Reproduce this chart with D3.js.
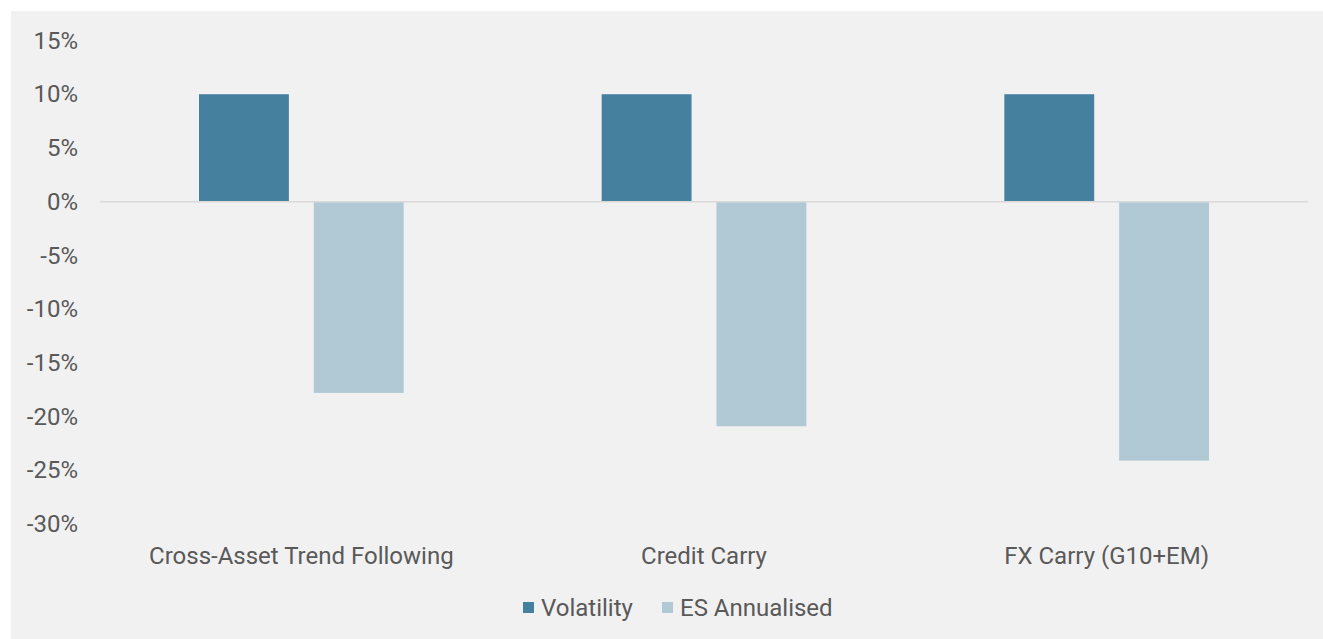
<!DOCTYPE html>
<html>
<head>
<meta charset="utf-8">
<script src="https://cdn.jsdelivr.net/npm/d3@7"></script>
<style>
  body { margin: 0; background: #fff; }
  svg { display: block; font-family: Roboto, "Noto Sans", sans-serif; }
</style>
</head>
<body>
<svg id="chart" width="1323" height="639"></svg>
<script>
// chart data
const categories = ["Cross-Asset Trend Following", "Credit Carry", "FX Carry (G10+EM)"];
const seriesNames = ["Volatility", "ES Annualised"];
const volatility = [0.10, 0.10, 0.10];
const esAnnualised = [-0.178, -0.209, -0.241];
const yTicks = [0.15, 0.10, 0.05, 0, -0.05, -0.10, -0.15, -0.20, -0.25, -0.30];
const colors = ["#45809f", "#b1c9d4"];

const svg = d3.select("#chart");
const width = 1323, height = 639;
const fontSize = 24;

// grey panel
svg.append("rect")
    .attr("x", 11).attr("y", 11)
    .attr("width", width - 11).attr("height", height - 11)
    .attr("fill", "#f1f1f1");

const x0 = d3.scaleBand()
    .domain(categories)
    .range([100, 1308]);

// bars inside a category: about 90px wide with a 25px gap
const x1 = d3.scaleBand()
    .domain(seriesNames)
    .range([99, x0.bandwidth() - 99])
    .paddingInner(0.217);

const y = d3.scaleLinear()
    .domain([-0.30, 0.15])
    .range([524, 40.5]);

const rows = categories.map((c, i) => ({
    category: c,
    values: [volatility[i], esAnnualised[i]]
}));

// y axis labels
const yAxis = svg.append("g")
    .attr("transform", "translate(78,0)")
    .call(d3.axisLeft(y).tickValues(yTicks).tickSize(0).tickPadding(0)
        .tickFormat(d => Math.round(d * 100) + "%"));
yAxis.select(".domain").remove();
yAxis.selectAll("text")
    .attr("font-size", fontSize)
    .attr("fill", "#595959")
    .attr("font-family", "Roboto, sans-serif");

// bars
const groups = svg.selectAll("g.cat")
    .data(rows)
    .enter()
    .append("g")
    .attr("class", "cat")
    .attr("transform", d => `translate(${x0(d.category)},0)`);

groups.selectAll("rect")
    .data(d => d.values.map((v, i) => ({ name: seriesNames[i], value: v, i })))
    .enter()
    .append("rect")
    .attr("x", d => x1(d.name))
    .attr("width", x1.bandwidth())
    .attr("y", d => y(Math.max(0, d.value)))
    .attr("height", d => Math.abs(y(d.value) - y(0)))
    .attr("fill", d => colors[d.i]);

// zero line
svg.append("line")
    .attr("x1", 100).attr("x2", 1308)
    .attr("y1", y(0)).attr("y2", y(0))
    .attr("stroke", "#d9d9d9")
    .attr("stroke-width", 1.5);

// category labels
svg.selectAll("text.cat-label")
    .data(categories)
    .enter()
    .append("text")
    .attr("class", "cat-label")
    .attr("x", d => x0(d) + x0.bandwidth() / 2)
    .attr("y", 564)
    .attr("text-anchor", "middle")
    .attr("font-size", fontSize)
    .attr("fill", "#595959")
    .text(d => d);

// legend
const legend = svg.append("g").attr("transform", "translate(523,607)");
const legendX = [0, 139];
seriesNames.forEach((name, i) => {
    const g = legend.append("g").attr("transform", `translate(${legendX[i]},0)`);
    g.append("rect")
        .attr("x", 0).attr("y", -5)
        .attr("width", 11).attr("height", 11)
        .attr("fill", colors[i]);
    g.append("text")
        .attr("x", 18).attr("y", 8.5)
        .attr("font-size", fontSize)
        .attr("fill", "#595959")
        .text(name);
});
</script>
</body>
</html>
